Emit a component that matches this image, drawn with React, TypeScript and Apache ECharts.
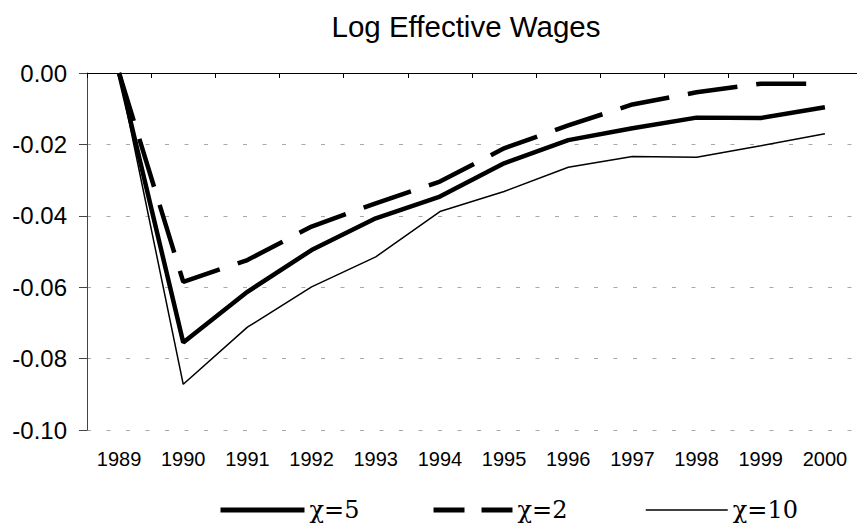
import React, { useEffect, useRef } from "react";
import * as echarts from "echarts";

const years = ["1989", "1990", "1991", "1992", "1993", "1994", "1995", "1996", "1997", "1998", "1999", "2000"];
const chi5 = [0, -0.0755, -0.0613, -0.0496, -0.0407, -0.0346, -0.0253, -0.0188, -0.0155, -0.0125, -0.0126, -0.0096];
const chi2 = [0, -0.0585, -0.0524, -0.043, -0.0365, -0.0304, -0.0211, -0.0147, -0.0088, -0.0054, -0.003, -0.003];
const chi10 = [0, -0.0872, -0.0712, -0.0599, -0.0515, -0.0388, -0.0332, -0.0264, -0.0234, -0.0236, -0.0204, -0.017];
const seriesNames = ["χ=5", "χ=2", "χ=10"];
const yMin = -0.1;
const yMax = 0;
const yStep = 0.02;

const SERIF = "DejaVu Serif";
const SANS = "Liberation Sans";

export default function App() {
  const ref = useRef<HTMLDivElement>(null);
  useEffect(() => {
    if (!ref.current) return;
    const chart = echarts.init(ref.current, null, { renderer: "svg" });
    const legendText = {
      fontFamily: SERIF,
      fontSize: 24,
      color: "#000",
    };
    const legendBase = {
      top: 498,
      padding: 0,
      itemHeight: 2,
      textStyle: legendText,
      itemStyle: { opacity: 0, borderWidth: 0 },
    };
    chart.setOption({
      animation: false,
      backgroundColor: "#fff",
      title: {
        text: "Log Effective Wages",
        left: 466,
        top: 11,
        padding: 0,
        textAlign: "center",
        textStyle: {
          fontFamily: SANS,
          fontSize: 29.5,
          fontWeight: "normal",
          color: "#000",
        },
      },
      grid: { left: 87, top: 73, width: 773.6, height: 357, containLabel: false },
      xAxis: {
        type: "category",
        data: years,
        boundaryGap: true,
        axisLine: { show: true, lineStyle: { color: "#000", width: 1 } },
        axisTick: { show: true, length: 5, alignWithLabel: false, lineStyle: { color: "#000" } },
        axisLabel: {
          margin: 19,
          interval: 0,
          fontFamily: SANS,
          fontSize: 20,
          color: "#000",
        },
        splitLine: { show: false },
      },
      yAxis: {
        type: "value",
        min: yMin,
        max: yMax,
        interval: yStep,
        axisLine: { show: true, lineStyle: { color: "#444", width: 1 } },
        axisTick: { show: true, length: 8, lineStyle: { color: "#444" } },
        axisLabel: {
          margin: 20,
          fontFamily: SANS,
          fontSize: 24,
          color: "#000",
          formatter: (v: number) => v.toFixed(2),
        },
        splitLine: { show: true, lineStyle: { color: "#a8a8a8", width: 1, type: [4, 15.5] } },
      },
      legend: [
        {
          ...legendBase,
          data: [seriesNames[0]],
          left: 218,
          itemWidth: 84,
          lineStyle: { width: 5 },
        },
        {
          ...legendBase,
          data: [seriesNames[1]],
          left: 431,
          itemWidth: 79,
          lineStyle: { width: 5, type: [31, 17] },
        },
        {
          ...legendBase,
          data: [seriesNames[2]],
          left: 645,
          itemWidth: 82,
          lineStyle: { width: 1.5 },
        },
      ],
      series: [
        {
          name: seriesNames[0],
          type: "line",
          data: chi5,
          symbol: "none",
          lineStyle: { color: "#000", width: 4.5, type: "solid" },
          itemStyle: { color: "#000" },
          z: 3,
        },
        {
          name: seriesNames[1],
          type: "line",
          data: chi2,
          symbol: "none",
          lineStyle: { color: "#000", width: 4.5, type: [50, 19] },
          itemStyle: { color: "#000" },
          z: 2,
        },
        {
          name: seriesNames[2],
          type: "line",
          data: chi10,
          symbol: "none",
          lineStyle: { color: "#000", width: 1.5, type: "solid" },
          itemStyle: { color: "#000" },
          z: 1,
        },
      ],
    });
    return () => chart.dispose();
  }, []);
  return <div ref={ref} style={{ width: 857, height: 526, position: "absolute", left: 0, top: 0 }} />;
}
